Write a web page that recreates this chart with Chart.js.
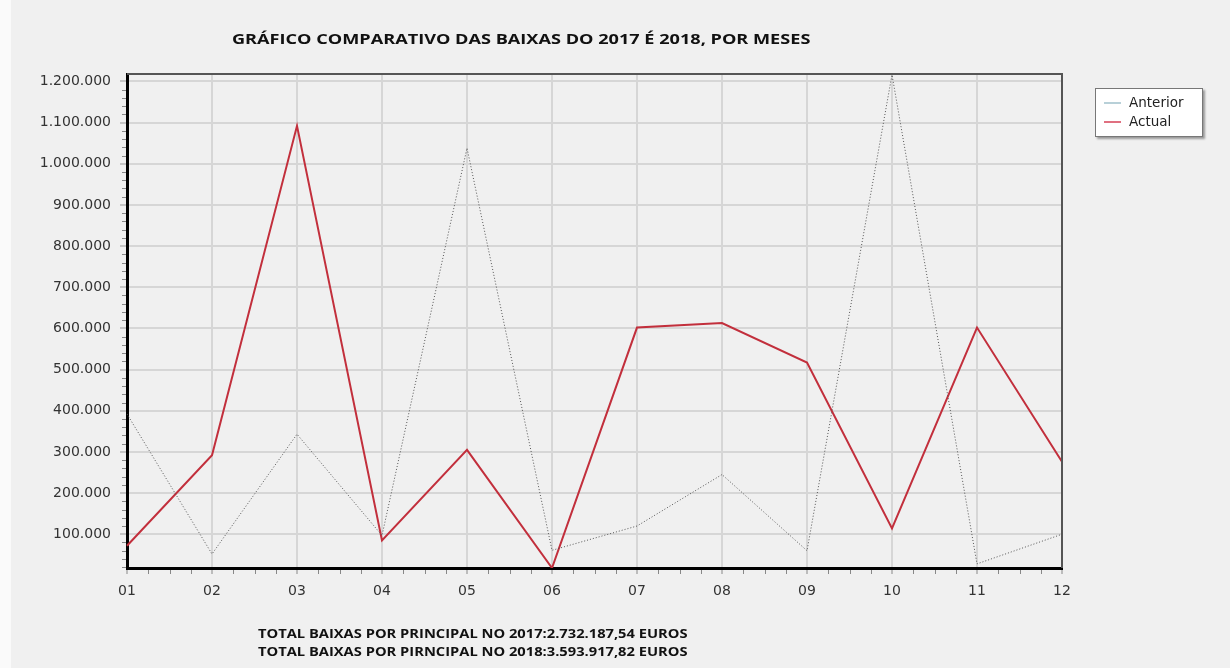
<!DOCTYPE html>
<html>
<head>
<meta charset="utf-8">
<script src="https://cdn.jsdelivr.net/npm/chart.js@4.4.1/dist/chart.umd.min.js"></script>
<style>
    html, body { margin: 0; padding: 0; }
    body { width: 1230px; height: 668px; background: #f0f0f0; position: relative; overflow: hidden; }
    #strip { position: absolute; left: 0; top: 0; width: 11px; height: 668px; background: #fafafa; }
    #grafico { position: absolute; left: 0; top: 0; }
    .txt { position: absolute; font-family: "Open Sans", sans-serif; font-weight: 700; color: #111; white-space: nowrap; transform-origin: left top; }
    #titulo { left: 232px; top: 29px; font-size: 14.5px; transform: scaleX(1.25); }
    #total1 { left: 258px; top: 624px; font-size: 13px; transform: scaleX(1.13); }
    #total2 { left: 258px; top: 642px; font-size: 13px; transform: scaleX(1.13); }
    #legenda { position: absolute; left: 1095px; top: 88px; width: 106px; height: 47px; background: #fff;
        border: 1px solid #777; box-shadow: 2px 2px 2px #999; font-family: "DejaVu Sans", sans-serif; font-size: 13.5px; color: #222; }
    #legenda div { position: absolute; left: 33px; }
    #legenda span { position: absolute; left: -25px; top: 8px; width: 17px; height: 2px; }
</style>
</head>
<body>
<div id="strip"></div>
<canvas id="grafico" width="1230" height="668"></canvas>
<div class="txt" id="titulo">GRÁFICO COMPARATIVO DAS BAIXAS DO 2017 É 2018, POR MESES</div>
<div class="txt" id="total1">TOTAL BAIXAS POR PRINCIPAL NO 2017:2.732.187,54 EUROS</div>
<div class="txt" id="total2">TOTAL BAIXAS POR PIRNCIPAL NO 2018:3.593.917,82 EUROS</div>
<div id="legenda">
    <div style="top:5px"><span style="background:#b8d0d8"></span>Anterior</div>
    <div style="top:24px"><span style="background:#e07080"></span>Actual</div>
</div>
<script>
const meses = ['01', '02', '03', '04', '05', '06', '07', '08', '09', '10', '11', '12'];
const anterior = [392000, 52000, 343000, 97000, 1038000, 61000, 120000, 245000, 60000, 1216000, 28000, 100000];
const actual = [72000, 292000, 1092000, 85000, 305000, 18000, 602000, 613000, 517000, 114000, 602000, 276000];
const yTicks = [100000, 200000, 300000, 400000, 500000, 600000, 700000, 800000, 900000, 1000000, 1100000, 1200000];
const yMin = 18000;
const yMax = 1218000;

const fmt = (v) => v.toLocaleString('de-DE');

// moldura superior/direita e marcas menores dos eixos
const moldura = {
    id: 'moldura',
    afterDraw(chart) {
        const { ctx, chartArea: a, scales } = chart;
        ctx.save();
        ctx.strokeStyle = '#555';
        ctx.lineWidth = 2;
        ctx.beginPath();
        ctx.moveTo(a.left, a.top);
        ctx.lineTo(a.right, a.top);
        ctx.lineTo(a.right, a.bottom);
        ctx.stroke();

        ctx.strokeStyle = '#888';
        ctx.lineWidth = 1;
        ctx.beginPath();
        for (let v = 20000; v < yMax; v += 20000) {
            if (v % 100000 === 0 || v < yMin) continue;
            const y = Math.round(scales.y.getPixelForValue(v)) + 0.5;
            ctx.moveTo(a.left - 5, y);
            ctx.lineTo(a.left - 1, y);
        }
        for (let i = 0; i < meses.length - 1; i++) {
            for (let k = 1; k < 4; k++) {
                const x = Math.round(scales.x.getPixelForValue(i + k / 4)) + 0.5;
                ctx.moveTo(x, a.bottom + 2);
                ctx.lineTo(x, a.bottom + 6);
            }
        }
        ctx.stroke();
        ctx.restore();
    }
};

const ctx = document.getElementById('grafico').getContext('2d');
new Chart(ctx, {
    type: 'line',
    data: {
        labels: meses,
        datasets: [{
            label: 'Anterior',
            data: anterior,
            borderColor: '#555',
            borderWidth: 1,
            borderDash: [1, 2],
            pointRadius: 0,
            tension: 0
        }, {
            label: 'Actual',
            data: actual,
            borderColor: '#c22f3c',
            borderWidth: 2,
            pointRadius: 0,
            tension: 0
        }]
    },
    options: {
        responsive: false,
        animation: false,
        layout: { padding: { top: 74, right: 168, left: 0, bottom: 0 } },
        plugins: {
            legend: { display: false },
            tooltip: { enabled: false }
        },
        scales: {
            x: {
                offset: false,
                afterFit: (s) => { s.height = 100; },
                grid: { color: '#d6d6d6', lineWidth: 2, tickLength: 6, tickColor: '#888', tickWidth: 1 },
                border: { color: '#000', width: 3 },
                ticks: { color: '#333', padding: 9, font: { family: 'DejaVu Sans', size: 14 } }
            },
            y: {
                min: yMin,
                max: yMax,
                afterFit: (s) => { s.width = 127; },
                afterBuildTicks: (s) => { s.ticks = yTicks.map(v => ({ value: v })); },
                grid: { color: '#d6d6d6', lineWidth: 2, tickLength: 7, tickColor: '#999', tickWidth: 1 },
                border: { color: '#000', width: 3 },
                ticks: {
                    color: '#333',
                    padding: 9,
                    font: { family: 'DejaVu Sans', size: 14 },
                    callback: (v) => fmt(v)
                }
            }
        }
    },
    plugins: [moldura]
});
</script>
</body>
</html>
